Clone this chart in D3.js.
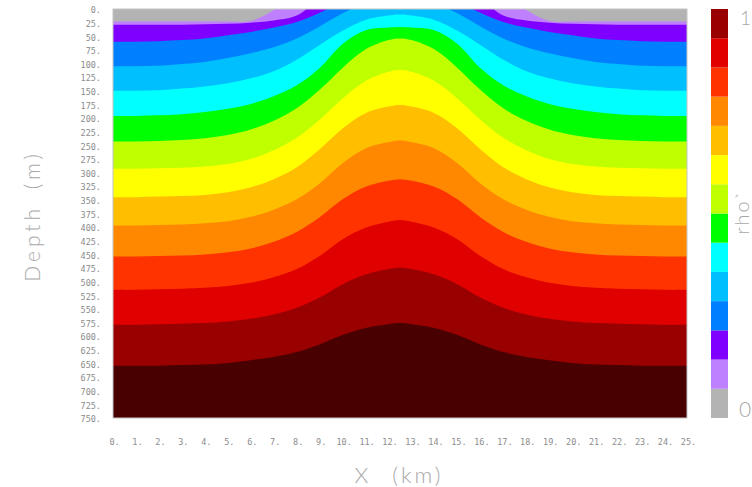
<!DOCTYPE html>
<html>
<head>
<meta charset="utf-8">
<script src="https://cdn.jsdelivr.net/npm/d3@7"></script>
<style>
  body { margin: 0; background: #fff; }
  svg { display: block; }
</style>
</head>
<body>
<svg id="chart" width="752" height="487"></svg>
<script>
/** Positions along the section (km) where contour depths were read */
var xKm = [0, 1, 2, 3, 4, 5, 6, 7, 8, 9, 10, 11, 12, 12.5, 13, 14, 15, 16, 17, 18, 19, 20, 21, 22, 23, 24, 25];

/** Depth (m) of each rho contour along xKm, lightest level first.
 *  Negative depths mean the contour sits above the surface there. */
var rho01 = [23, 23, 23, 23, 23, 23, 22, 2, -30, -60, -80, -90, -95, -95, -95, -90, -80, -60, -30, 2, 22, 23, 23, 23, 23, 23, 23];
var rho02 = [29, 29, 29, 29, 28, 27, 25, 21, 12, -20, -50, -70, -80, -80, -80, -70, -50, -20, 12, 21, 25, 27, 28, 29, 29, 29, 29];
var rho03 = [60, 60, 59, 57, 54, 48, 42, 34, 24, 7, -15, -40, -55, -58, -55, -40, -15, 7, 24, 34, 42, 48, 54, 57, 59, 60, 60];
var rho04 = [105, 105, 104, 101, 97, 90, 81, 70, 54, 32, 8, -12, -25, -28, -25, -12, 8, 32, 54, 70, 81, 90, 97, 101, 104, 105, 105];
var rho05 = [150, 150, 149, 146, 142, 136, 127, 114, 93, 66, 40, 20, 12, 10, 12, 20, 40, 66, 93, 114, 127, 136, 142, 146, 149, 150, 150];
var rho06 = [196, 196, 195, 193, 189, 183, 174, 160, 140, 108, 64, 39, 34, 33, 34, 39, 64, 108, 140, 160, 174, 183, 189, 193, 195, 196, 196];
var rho07 = [243, 243, 242, 240, 237, 231, 221, 205, 182, 148, 108, 74, 57, 54, 57, 74, 108, 148, 182, 205, 221, 231, 237, 240, 242, 243, 243];
var rho08 = [293, 293, 292, 291, 289, 284, 275, 259, 236, 203, 164, 132, 115, 112, 115, 132, 164, 203, 236, 259, 275, 284, 289, 291, 292, 293, 293];
var rho09 = [345, 345, 344, 343, 341, 336, 327, 312, 290, 257, 219, 191, 179, 176, 179, 191, 219, 257, 290, 312, 327, 336, 341, 343, 344, 345, 345];
var rho10 = [397, 397, 396, 395, 393, 389, 381, 368, 349, 320, 283, 256, 244, 241, 244, 256, 283, 320, 349, 368, 381, 389, 393, 395, 396, 397, 397];
var rho11 = [454, 454, 453, 452, 450, 446, 439, 427, 409, 382, 349, 326, 315, 312, 315, 326, 349, 382, 409, 427, 439, 446, 450, 452, 453, 454, 454];
var rho12 = [515, 515, 514, 513, 511, 508, 502, 492, 477, 453, 422, 401, 390, 387, 390, 401, 422, 453, 477, 492, 502, 508, 511, 513, 514, 515, 515];
var rho13 = [579, 579, 578, 577, 576, 573, 568, 560, 548, 529, 505, 487, 477, 474, 477, 487, 505, 529, 548, 560, 568, 573, 576, 577, 578, 579, 579];
var rho14 = [654, 654, 654, 653, 652, 649, 644, 638, 629, 615, 598, 585, 578, 576, 578, 585, 598, 615, 629, 638, 644, 649, 652, 653, 654, 654, 654];

var contours = [rho01, rho02, rho03, rho04, rho05, rho06, rho07, rho08, rho09, rho10, rho11, rho12, rho13, rho14];

/** Tick values */
var depthTicks = [0, 25, 50, 75, 100, 125, 150, 175, 200, 225, 250, 275, 300, 325, 350, 375, 400,
                  425, 450, 475, 500, 525, 550, 575, 600, 625, 650, 675, 700, 725, 750];
var kmTicks = [0, 1, 2, 3, 4, 5, 6, 7, 8, 9, 10, 11, 12, 13, 14, 15, 16, 17, 18, 19, 20, 21, 22, 23, 24, 25];

/** Band colours, lightest water first (last one is below the colour bar range) */
var bandColors = ['#b3b3b3', '#bf80ff', '#8000ff', '#0080ff', '#00bfff', '#00ffff', '#00ff00',
                  '#bfff00', '#ffff00', '#ffbf00', '#ff8800', '#ff3300', '#e00000', '#990000', '#490000'];
var colorbarCount = 14;

/** Layout */
var plotLeft = 113, plotRight = 687, plotTop = 9, plotBottom = 418;
var barLeft = 711, barWidth = 17;
var labelColor = '#8c8c8c', titleColor = '#a8a8a8';

var svg = d3.select('#chart');

var xScale = d3.scaleLinear().domain([0, 25]).range([plotLeft, plotRight]);
var yScale = d3.scaleLinear().domain([0, 750]).range([plotTop, plotBottom]);

svg.append('defs').append('clipPath').attr('id', 'plotClip')
    .append('rect')
    .attr('x', plotLeft).attr('y', plotTop)
    .attr('width', plotRight - plotLeft).attr('height', plotBottom - plotTop);

var field = svg.append('g').attr('clip-path', 'url(#plotClip)');

// lightest class fills everything, each contour then paints the denser water beneath it
field.append('rect')
    .attr('x', plotLeft).attr('y', plotTop)
    .attr('width', plotRight - plotLeft).attr('height', plotBottom - plotTop)
    .attr('fill', bandColors[0]);

contours.forEach(function (depths, k) {
    var pts = xKm.map(function (x, i) { return { x: x, d: depths[i] }; });
    var area = d3.area()
        .curve(d3.curveCatmullRom.alpha(0.5))
        .x(function (p) { return xScale(p.x); })
        .y0(yScale(750))
        .y1(function (p) { return yScale(p.d); });
    field.append('path')
        .datum(pts)
        .attr('d', area)
        .attr('fill', bandColors[k + 1]);
});

svg.append('rect')
    .attr('x', plotLeft).attr('y', plotTop)
    .attr('width', plotRight - plotLeft).attr('height', plotBottom - plotTop)
    .attr('fill', 'none')
    .attr('stroke', '#c4c4c4')
    .attr('stroke-width', 1);

/** Axes */
function styleTicks(g) {
    g.select('.domain').remove();
    g.selectAll('text')
        .attr('fill', labelColor)
        .style('font-family', '"DejaVu Sans Mono", monospace')
        .style('font-size', '8.5px');
}

svg.append('g')
    .attr('transform', 'translate(104,1)')
    .call(d3.axisLeft(yScale).tickValues(depthTicks).tickSize(0).tickPadding(3)
        .tickFormat(function (d) { return d + '.'; }))
    .call(styleTicks);

svg.append('g')
    .attr('transform', 'translate(1,436)')
    .call(d3.axisBottom(xScale).tickValues(kmTicks).tickSize(0).tickPadding(3)
        .tickFormat(function (d) { return d + '.'; }))
    .call(styleTicks);

/** Colour bar */
var barScale = d3.scaleBand().domain(d3.range(colorbarCount)).range([plotBottom, plotTop]);

svg.append('g').selectAll('rect')
    .data(bandColors.slice(0, colorbarCount))
    .enter()
    .append('rect')
    .attr('x', barLeft)
    .attr('y', function (c, i) { return barScale(i); })
    .attr('width', barWidth)
    .attr('height', barScale.bandwidth())
    .attr('fill', function (c) { return c; });

var titleFont = 'Lato, "DejaVu Sans", sans-serif';

svg.append('text')
    .attr('x', 740).attr('y', 25)
    .attr('fill', titleColor)
    .style('font-family', titleFont).style('font-weight', 300).style('font-size', '19px')
    .text('1');

svg.append('text')
    .attr('x', 739).attr('y', 417)
    .attr('fill', titleColor)
    .style('font-family', titleFont).style('font-weight', 300).style('font-size', '21px')
    .text('0');

svg.append('text')
    .attr('transform', 'translate(749,212) rotate(-90)')
    .attr('text-anchor', 'middle')
    .attr('fill', titleColor)
    .style('font-family', titleFont).style('font-weight', 300).style('font-size', '20px')
    .style('letter-spacing', '2px')
    .text('rho`');

svg.append('text')
    .attr('transform', 'translate(40,216) rotate(-90)')
    .attr('text-anchor', 'middle')
    .attr('fill', titleColor)
    .style('font-family', titleFont).style('font-weight', 300).style('font-size', '21px')
    .style('letter-spacing', '4px').style('word-spacing', '6px')
    .text('Depth (m)');

svg.append('text')
    .attr('x', 399).attr('y', 483)
    .attr('text-anchor', 'middle')
    .attr('fill', titleColor)
    .style('font-family', titleFont).style('font-weight', 300).style('font-size', '22px')
    .style('letter-spacing', '3px').style('word-spacing', '12px')
    .text('X (km)');
</script>
</body>
</html>
